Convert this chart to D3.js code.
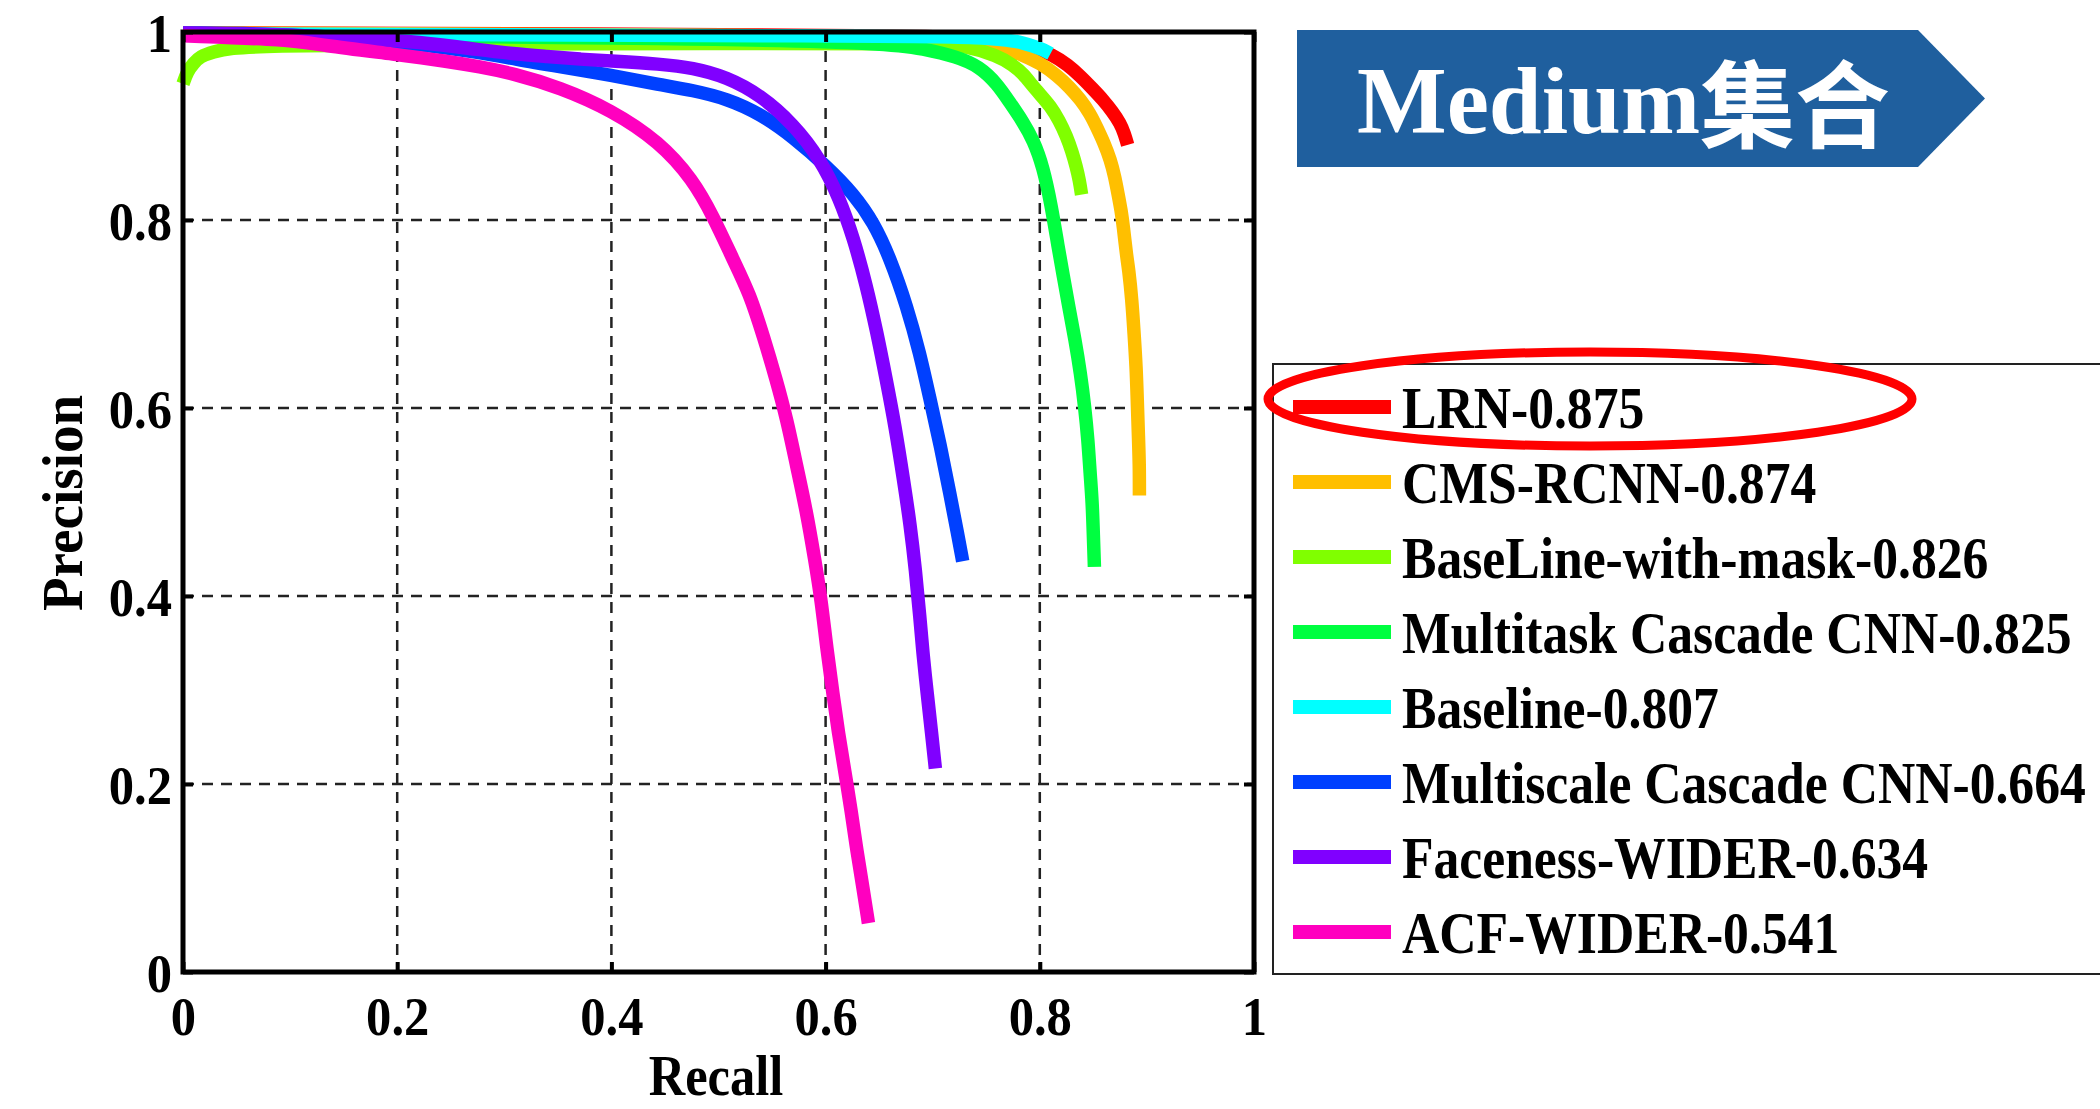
<!DOCTYPE html>
<html>
<head>
<meta charset="utf-8">
<script src="https://cdn.jsdelivr.net/npm/d3@7"></script>
<style>
  html, body { margin: 0; padding: 0; background: #ffffff; }
  svg { display: block; }
</style>
</head>
<body>
<div id="chart"></div>
<script>
// ---------------- data (recall, precision) ----------------
const seriesNames = [
  "LRN-0.875",
  "CMS-RCNN-0.874",
  "BaseLine-with-mask-0.826",
  "Multitask Cascade CNN-0.825",
  "Baseline-0.807",
  "Multiscale Cascade CNN-0.664",
  "Faceness-WIDER-0.634",
  "ACF-WIDER-0.541"
];
const seriesColors = ["#ff0000", "#ffbf00", "#80ff00", "#00ff40", "#00ffff", "#0040ff", "#8000ff", "#ff00bf"];

const lrn = [[0,0.999],[0.4,0.998],[0.7,0.996],[0.76,0.993],[0.79,0.986],[0.813,0.975],[0.826,0.965],
  [0.838,0.953],[0.849,0.940],[0.859,0.928],[0.868,0.915],[0.875,0.903],[0.879,0.892],[0.882,0.880]];
const cmsRcnn = [[0,0.999],[0.5,0.997],[0.7,0.994],[0.763,0.985],[0.785,0.975],[0.8,0.967],[0.816,0.954],
  [0.828,0.941],[0.838,0.928],[0.847,0.913],[0.853,0.899],[0.860,0.882],[0.866,0.864],[0.870,0.846],
  [0.873,0.828],[0.876,0.810],[0.878,0.793],[0.881,0.762],[0.883,0.748],[0.886,0.715],[0.888,0.680],
  [0.890,0.644],[0.891,0.609],[0.892,0.573],[0.893,0.540],[0.893,0.507]];
const baselineMask = [[0,0.945],[0.004,0.958],[0.010,0.967],[0.016,0.974],[0.028,0.979],[0.044,0.983],
  [0.078,0.985],[0.2,0.987],[0.5,0.988],[0.7,0.988],[0.732,0.985],[0.760,0.975],[0.775,0.965],
  [0.785,0.955],[0.793,0.943],[0.800,0.934],[0.810,0.921],[0.818,0.906],[0.825,0.889],[0.830,0.873],
  [0.834,0.857],[0.837,0.842],[0.839,0.827]];
const multitask = [[0,0.998],[0.5,0.993],[0.66,0.988],[0.691,0.982],[0.722,0.974],[0.744,0.963],
  [0.760,0.945],[0.772,0.925],[0.784,0.905],[0.794,0.885],[0.803,0.857],[0.811,0.814],[0.817,0.772],
  [0.822,0.740],[0.827,0.708],[0.833,0.672],[0.838,0.637],[0.842,0.601],[0.845,0.566],[0.847,0.530],
  [0.849,0.500],[0.850,0.465],[0.851,0.431]];
const baseline = [[0,0.998],[0.3,0.997],[0.6,0.996],[0.763,0.995],[0.785,0.988],[0.800,0.983],[0.810,0.977]];
const multiscale = [[0,0.999],[0.1,0.998],[0.2,0.990],[0.28,0.978],[0.31,0.971],[0.352,0.963],
  [0.400,0.954],[0.445,0.944],[0.476,0.938],[0.508,0.929],[0.539,0.913],[0.570,0.888],[0.601,0.857],
  [0.626,0.828],[0.645,0.797],[0.660,0.760],[0.676,0.708],[0.688,0.658],[0.697,0.612],[0.707,0.561],
  [0.716,0.509],[0.7235,0.465],[0.728,0.437]];
const faceness = [[0,0.999],[0.1,0.997],[0.147,0.994],[0.184,0.992],[0.231,0.988],[0.277,0.981],
  [0.308,0.977],[0.34,0.974],[0.371,0.971],[0.402,0.969],[0.445,0.966],[0.476,0.962],[0.508,0.952],
  [0.539,0.933],[0.570,0.902],[0.595,0.865],[0.613,0.823],[0.626,0.781],[0.638,0.731],[0.648,0.680],
  [0.657,0.628],[0.665,0.580],[0.673,0.522],[0.679,0.476],[0.684,0.427],[0.688,0.378],[0.691,0.337],
  [0.695,0.295],[0.699,0.254],[0.7025,0.2165]];
const acfWider = [[0,0.996],[0.1,0.992],[0.128,0.986],[0.2,0.976],[0.246,0.969],[0.277,0.963],
  [0.308,0.956],[0.352,0.941],[0.400,0.917],[0.445,0.883],[0.476,0.843],[0.495,0.804],[0.514,0.757],
  [0.529,0.722],[0.542,0.676],[0.554,0.630],[0.564,0.587],[0.573,0.538],[0.582,0.491],[0.590,0.438],
  [0.596,0.395],[0.601,0.345],[0.607,0.295],[0.612,0.254],[0.618,0.213],[0.624,0.171],[0.629,0.130],
  [0.635,0.089],[0.640,0.052]];
const seriesData = [lrn, cmsRcnn, baselineMask, multitask, baseline, multiscale, faceness, acfWider];

const xTicks = [0, 0.2, 0.4, 0.6, 0.8, 1];
const yTicks = [0, 0.2, 0.4, 0.6, 0.8, 1];
const xTickLabels = ["0", "0.2", "0.4", "0.6", "0.8", "1"];
const yTickLabels = ["0", "0.2", "0.4", "0.6", "0.8", "1"];
const xTitle = "Recall";
const yTitle = "Precision";
const bannerText = "Medium";
const bannerTextCJK = "集合";

// ---------------- layout ----------------
const W = 2100, H = 1109;
const plot = { left: 183, right: 1254, top: 32, bottom: 972 };
const serif = "'Liberation Serif', 'Times New Roman', serif";

const svg = d3.select("#chart").append("svg")
  .attr("width", W).attr("height", H)
  .attr("viewBox", `0 0 ${W} ${H}`);
svg.append("rect").attr("width", W).attr("height", H).attr("fill", "#fff");

const x = d3.scaleLinear().domain([0, 1]).range([plot.left, plot.right]);
const y = d3.scaleLinear().domain([0, 1]).range([plot.bottom, plot.top]);

// grid
const grid = svg.append("g");
grid.selectAll("line.gx").data(xTicks.slice(1, -1)).join("line")
  .attr("x1", d => x(d)).attr("x2", d => x(d))
  .attr("y1", plot.top).attr("y2", plot.bottom)
  .attr("stroke", "#222").attr("stroke-width", 2.5).attr("stroke-dasharray", "11,8");
grid.selectAll("line.gy").data(yTicks.slice(1, -1)).join("line")
  .attr("x1", plot.left).attr("x2", plot.right)
  .attr("y1", d => y(d)).attr("y2", d => y(d))
  .attr("stroke", "#222").attr("stroke-width", 2.5).attr("stroke-dasharray", "11,8");

// curves
const line = d3.line().x(d => x(d[0])).y(d => y(d[1])).curve(d3.curveBasis);
svg.append("g").selectAll("path").data(seriesData).join("path")
  .attr("d", d => line(d))
  .attr("fill", "none")
  .attr("stroke", (d, i) => seriesColors[i])
  .attr("stroke-width", 13.5)
  .attr("stroke-linejoin", "round")
  .attr("stroke-linecap", "butt");

// axes (ticks inward) and box
function styleTicks(g) {
  g.select(".domain").remove();
  g.selectAll(".tick line").attr("stroke", "#000").attr("stroke-width", 4);
}
const axL = svg.append("g").attr("transform", `translate(${plot.left},0)`)
  .call(d3.axisLeft(y).tickValues(yTicks).tickSize(-10).tickPadding(11)
    .tickFormat((d, i) => yTickLabels[i]));
styleTicks(axL);
axL.selectAll(".tick text")
  .attr("x", null).attr("dy", null)
  .attr("transform", "translate(-11,19) scale(0.92,1)")
  .attr("text-anchor", "end");
const axB = svg.append("g").attr("transform", `translate(0,${plot.bottom})`)
  .call(d3.axisBottom(x).tickValues(xTicks).tickSize(-10).tickPadding(10)
    .tickFormat((d, i) => xTickLabels[i]));
styleTicks(axB);
axB.selectAll(".tick text")
  .attr("y", null).attr("dy", null)
  .attr("transform", "translate(0,63) scale(0.92,1)");
const axR = svg.append("g").attr("transform", `translate(${plot.right},0)`)
  .call(d3.axisRight(y).tickValues(yTicks).tickSize(-10).tickFormat(""));
styleTicks(axR);
const axT = svg.append("g").attr("transform", `translate(0,${plot.top})`)
  .call(d3.axisTop(x).tickValues(xTicks).tickSize(-10).tickFormat(""));
styleTicks(axT);
svg.selectAll(".tick text")
  .attr("fill", "#000")
  .style("font-family", serif).style("font-weight", "bold").style("font-size", "55px");

svg.append("rect")
  .attr("x", plot.left).attr("y", plot.top)
  .attr("width", plot.right - plot.left).attr("height", plot.bottom - plot.top)
  .attr("fill", "none").attr("stroke", "#000").attr("stroke-width", 5);

// axis titles
svg.append("text")
  .attr("transform", `translate(716,1095) scale(0.87,1)`)
  .attr("text-anchor", "middle")
  .style("font-family", serif).style("font-weight", "bold").style("font-size", "58px")
  .text(xTitle);
svg.append("text")
  .attr("transform", `translate(82,503) rotate(-90) scale(0.95,1)`)
  .attr("text-anchor", "middle")
  .style("font-family", serif).style("font-weight", "bold").style("font-size", "58px")
  .text(yTitle);

// banner
const bx0 = 1297, bx1 = 1918, btip = 1985, by0 = 30, by1 = 167;
svg.append("polygon")
  .attr("points", [[bx0, by0], [bx1, by0], [btip, (by0 + by1) / 2], [bx1, by1], [bx0, by1]].map(p => p.join(",")).join(" "))
  .attr("fill", "#1f5f9e");
const bt = svg.append("text").attr("x", 1357).attr("y", 133)
  .attr("fill", "#fff").style("font-weight", "bold").style("font-size", "95px");
bt.append("tspan").style("font-family", serif).text(bannerText);
bt.append("tspan").style("font-family", "'Noto Sans CJK SC', sans-serif").attr("dy", 8).text(bannerTextCJK);

// legend
const lg = { left: 1273, top: 364, bottom: 974, row0: 407, step: 75 };
svg.append("rect")
  .attr("x", lg.left).attr("y", lg.top)
  .attr("width", 900).attr("height", lg.bottom - lg.top)
  .attr("fill", "#fff").attr("stroke", "#222").attr("stroke-width", 2);
const items = svg.append("g").selectAll("g").data(seriesNames).join("g")
  .attr("transform", (d, i) => `translate(0,${lg.row0 + i * lg.step})`);
items.append("line")
  .attr("x1", 1293).attr("x2", 1391).attr("y1", 0).attr("y2", 0)
  .attr("stroke", (d, i) => seriesColors[i]).attr("stroke-width", 14);
items.append("text")
  .attr("transform", "translate(1402,21) scale(0.875,1)")
  .style("font-family", serif).style("font-weight", "bold").style("font-size", "59px")
  .attr("fill", "#000")
  .text(d => d);

// highlight ellipse around first legend entry
svg.append("ellipse")
  .attr("cx", 1590).attr("cy", 399).attr("rx", 322).attr("ry", 47)
  .attr("fill", "none").attr("stroke", "#ff0000").attr("stroke-width", 9);
</script>
</body>
</html>
